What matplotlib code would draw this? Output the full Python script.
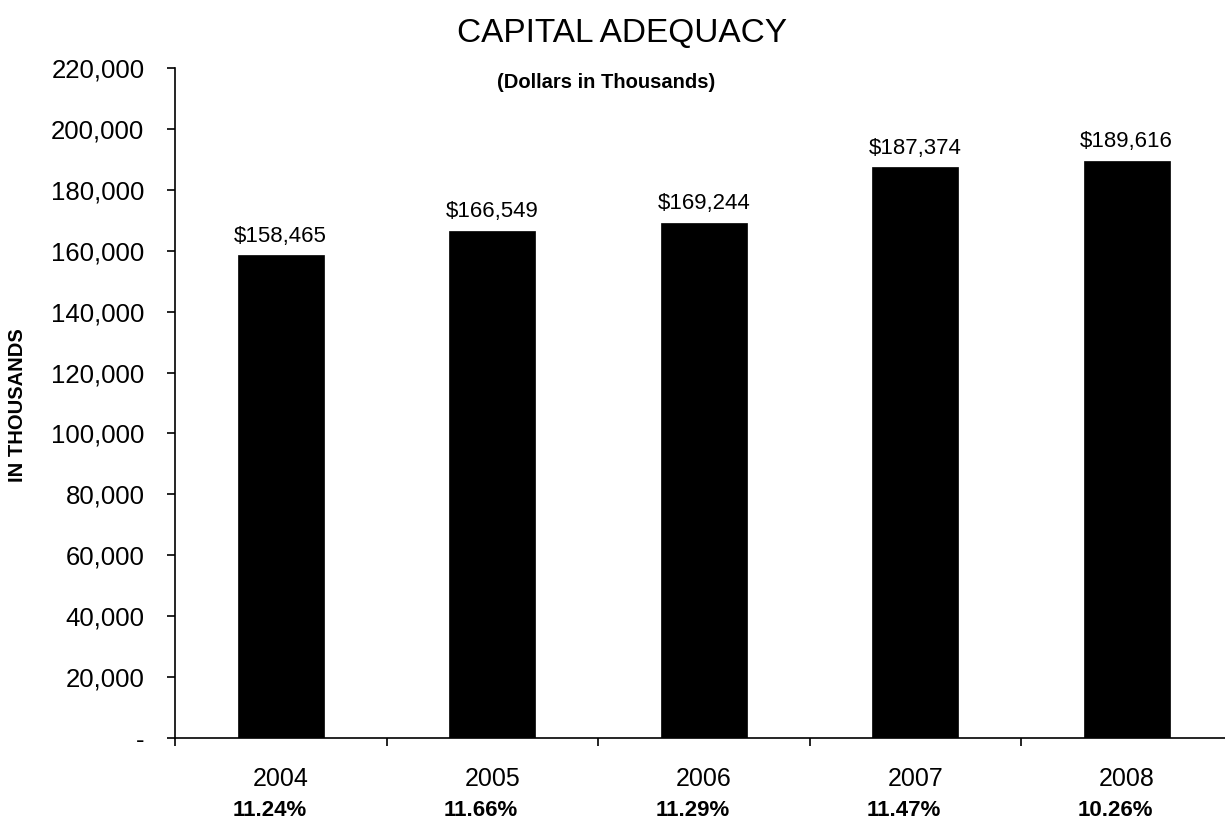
import matplotlib
matplotlib.use("Agg")
import matplotlib.pyplot as plt
from matplotlib.ticker import FuncFormatter, FixedLocator

years = ["2004", "2005", "2006", "2007", "2008"]
capital = [158465, 166549, 169244, 187374, 189616]
ratios = ["11.24%", "11.66%", "11.29%", "11.47%", "10.26%"]
yticks = list(range(0, 220001, 20000))

plt.rcParams['font.family'] = ['Liberation Sans', 'DejaVu Sans']

fig = plt.figure(figsize=(12.25, 8.23), dpi=100)
ax = fig.add_axes([175/1225, 1-738/823, 1057.5/1225, 670/823])

x = list(range(len(years)))
ax.bar(x, capital, width=0.405, color='black', edgecolor='black', linewidth=0.5)

ax.set_xlim(-0.5, len(years) - 0.5)
ax.set_ylim(0, 220000)
ax.set_yticks(yticks)
ax.yaxis.set_major_formatter(FuncFormatter(lambda v, p: "-" if v == 0 else f"{int(v):,}"))
ax.tick_params(axis='y', labelsize=18.5, length=6, width=1.2, pad=16, direction='out')

ax.xaxis.set_major_locator(FixedLocator([i - 0.5 for i in range(len(years))]))
ax.xaxis.set_major_formatter(FuncFormatter(lambda v, p: ""))
ax.xaxis.set_minor_locator(FixedLocator(x))
ax.set_xticklabels(years, minor=True)
ax.tick_params(axis='x', which='major', length=6, width=1.2, direction='out')
ax.tick_params(axis='x', which='minor', length=0, labelsize=18, pad=21)

for s in ['top', 'right']:
    ax.spines[s].set_visible(False)
for s in ['left', 'bottom']:
    ax.spines[s].set_linewidth(1.2)

for i, v in enumerate(capital):
    ax.annotate(f"${v:,}", xy=(i, v), xytext=(0, 6), textcoords='offset points',
                ha='center', va='bottom', fontsize=16)

for i, r in enumerate(ratios):
    ax.annotate(r, xy=(i, 0), xycoords=('data', 'axes fraction'), xytext=(-8, -52),
                textcoords='offset points', ha='center', va='center',
                fontsize=16, fontweight='bold')

fig.text(622/1225, 1-33/823, "CAPITAL ADEQUACY", ha='center', va='center', fontsize=24)
fig.text(606/1225, 1-82/823, "(Dollars in Thousands)", ha='center', va='center',
         fontsize=14.5, fontweight='bold')
fig.text(18/1225, 1-405/823, "IN THOUSANDS", ha='center', va='center', rotation=90,
         fontsize=14.5, fontweight='bold')

fig.savefig("out.png", dpi=100)
